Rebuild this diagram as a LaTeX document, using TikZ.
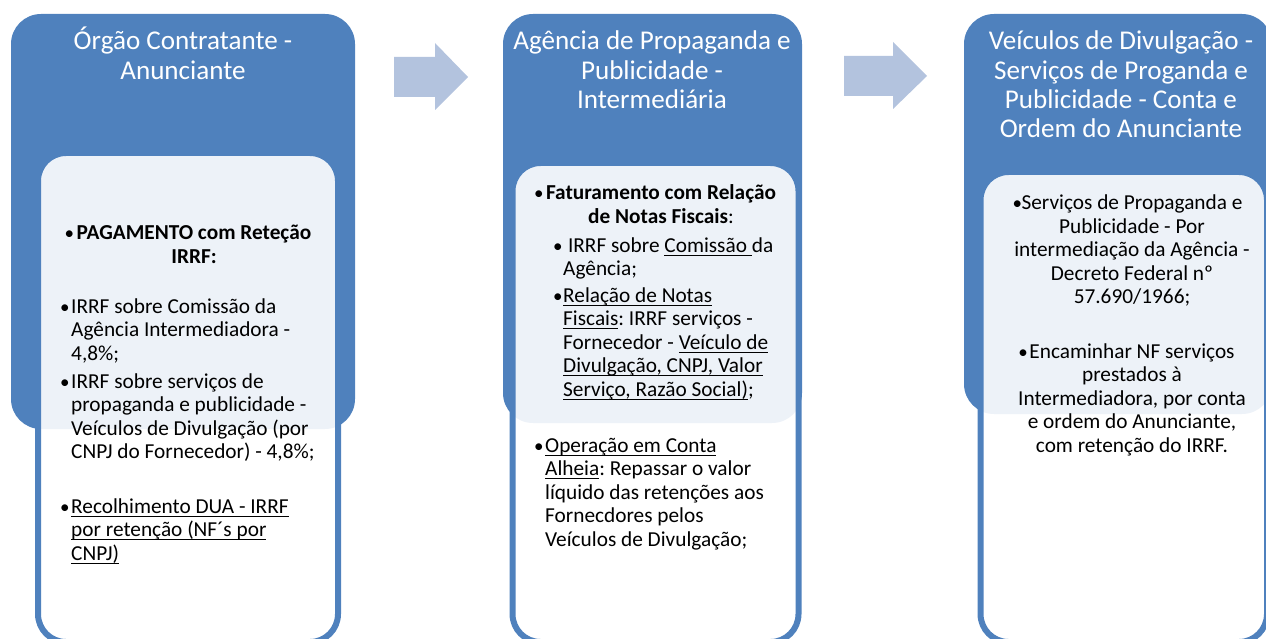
\documentclass[tikz,border=0pt]{standalone}
\usepackage{fontspec}
\setmainfont{Carlito}
\definecolor{smblue}{RGB}{79,129,189}
\definecolor{smarrow}{RGB}{179,195,222}
\newsavebox{\undlbox}
\newcommand{\undl}[1]{\leavevmode\sbox{\undlbox}{#1}\rlap{\rule[-3.8pt]{\wd\undlbox}{1.1pt}}\usebox{\undlbox}}
\newcommand{\bul}[1][11pt]{\leavevmode\llap{\makebox[#1][l]{\fontsize{19}{19}\selectfont•}}}
\frenchspacing
\begin{document}
\frenchspacing
\begin{tikzpicture}[x=1pt,y=-1pt,
    hdrbox/.style = {fill=smblue, rounded corners=30pt},
    txtbox/.style = {draw=smblue, line width=6pt, fill=white, fill opacity=0.9, rounded corners=28pt},
    blockarrow/.style = {fill=smarrow},
    hdr/.style = {text=white, align=flush center, text width=320pt, inner sep=0pt, anchor=base,
                  font=\fontsize{27.1}{29.3}\selectfont},
    ctr/.style = {align=flush center, text width=320pt, inner sep=0pt, anchor=base,
                  font=\fontsize{21.3}{23.5}\selectfont},
    lft/.style = {align=flush left, text width=320pt, inner sep=0pt, anchor=base west,
                  font=\fontsize{21.3}{23.5}\selectfont}]
                \useasboundingbox (0,0) rectangle (1266,639);
                \clip (0,0) rectangle (1266,639);

                \fill[hdrbox] (11,14) rectangle (355,429);
                \draw[txtbox] (38,153) rectangle (338,642);
                \fill[hdrbox] (503,14) rectangle (802,423);
                \draw[txtbox] (512.5,163) rectangle (798.5,642);
                \fill[hdrbox] (964,14) rectangle (1272,414);
                \draw[txtbox] (980.5,172) rectangle (1267,642);

                \fill[blockarrow] (394,57) -- (435,57) -- (435,43) -- (468,77)
                    -- (435,110) -- (435,97) -- (394,97) -- cycle;
                \fill[blockarrow] (844,56) -- (893,56) -- (893,42) -- (927,76)
                    -- (893,109) -- (893,96) -- (844,96) -- cycle;

                \node[hdr] (orgao) at (183,50)
                    {Órgão Contratante -\\Anunciante};
                \node[hdr] (agencia) at (652,50)
                    {Agência de Propaganda e\\Publicidade -\\Intermediária};
                \node[hdr] (veiculos) at (1121,50)
                    {Veículos de Divulgação -\\Serviços de Proganda e\\Publicidade - Conta e\\Ordem do Anunciante};

                \node[ctr] (pagto) at (194,240)
                    {\bul[12pt]\textbf{PAGAMENTO com Reteção}\\\textbf{IRRF:}};
                \node[lft] (irrfcom) at (71,313)
                    {\bul IRRF sobre Comissão da\\Agência Intermediadora -\\4,8\%;};
                \node[lft] (irrfserv) at (71,388)
                    {\bul IRRF sobre serviços de\\propaganda e publicidade -\\Veículos de Divulgação (por\\CNPJ do Fornecedor) - 4,8\%;};
                \node[lft] (dua) at (71,513)
                    {\bul\undl{Recolhimento DUA - IRRF}\\\undl{por retenção (NF´s por}\\\undl{CNPJ)}};

                \node[ctr] (fatura) at (661,200)
                    {\bul[12pt]\textbf{Faturamento com Relação}\\\textbf{de Notas Fiscais}:};
                \node[lft] (comissao) at (563,252)
                    {\bul[10pt] IRRF sobre \undl{Comissão\ }da\\Agência;};
                \node[lft] (relacao) at (563,302)
                    {\bul[10pt]\undl{Relação de Notas}\\\undl{Fiscais}: IRRF serviços -\\Fornecedor - \undl{Veículo de}\\\undl{Divulgação, CNPJ, Valor}\\\undl{Serviço, Razão Social)};};
                \node[lft] (operacao) at (545,452)
                    {\bul\undl{Operação em Conta}\\\undl{Alheia}: Repassar o valor\\líquido das retenções aos\\Fornecdores pelos\\Veículos de Divulgação;};

                \node[ctr] (servicos) at (1132,210)
                    {\bul[9pt]Serviços de Propaganda e\\Publicidade - Por\\intermediação da Agência -\\Decreto Federal nº\\57.690/1966;};
                \node[ctr] (encaminhar) at (1132,358)
                    {\bul Encaminhar NF serviços\\prestados à\\Intermediadora, por conta\\e ordem do Anunciante,\\com retenção do IRRF.};
            \end{tikzpicture}
\end{document}
